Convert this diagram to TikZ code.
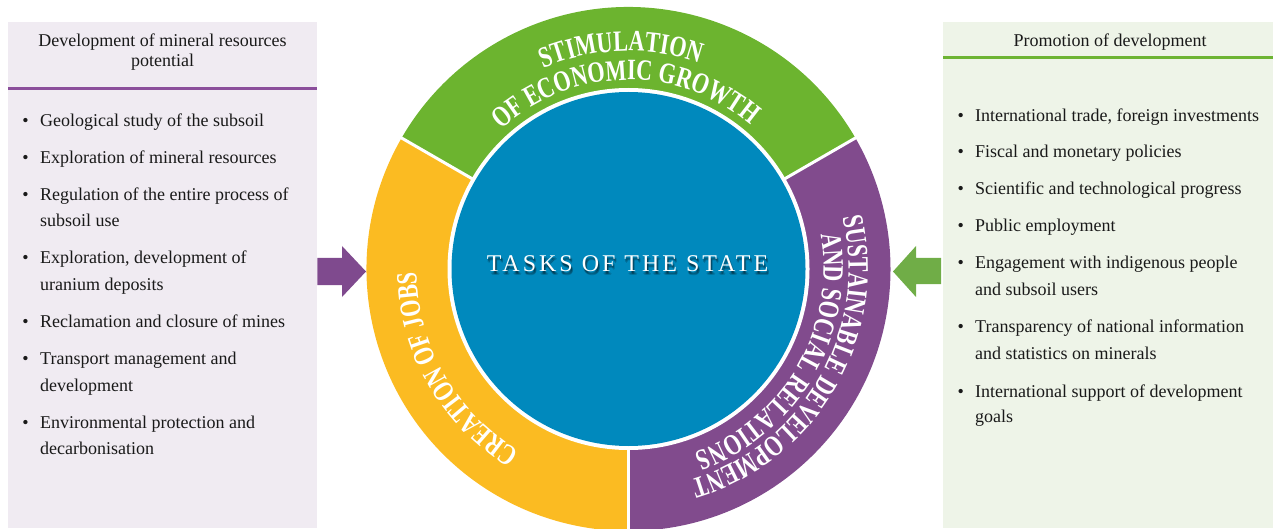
\documentclass[tikz,border=0pt]{standalone}
\usepackage{fontspec}
\setmainfont{Liberation Serif}
\newfontfamily\taskfont[LetterSpace=12.5]{Liberation Serif}
\newfontface\ringface[FakeStretch=0.75]{Liberation Serif Bold}
\usetikzlibrary{decorations.text,calc}
\definecolor{ringgreen}{HTML}{6CB42F}
\definecolor{ringyellow}{HTML}{FBBB22}
\definecolor{ringpurple}{HTML}{814B8D}
\definecolor{taskblue}{HTML}{0089BD}
\definecolor{arrowpurple}{HTML}{7F4A8E}
\definecolor{arrowgreen}{HTML}{70AD47}
\definecolor{lpanel}{HTML}{F0EBF2}
\definecolor{rpanel}{HTML}{EEF4E8}
\definecolor{lline}{HTML}{8B4E9B}
\definecolor{rline}{HTML}{6DB433}
\newcommand\ringfont{\ringface\fontsize{29.5}{31}\selectfont}
\begin{document}
\begin{tikzpicture}[x=1pt,y=1pt,
  item/.style={anchor=base west, inner sep=0pt, font=\fontsize{18}{22}\selectfont, text=black!90},
  bul/.style={anchor=base, inner sep=0pt, font=\fontsize{18}{22}\selectfont, text=black!90},
  hdr/.style={anchor=base, inner sep=0pt, font=\fontsize{18}{22}\selectfont, text=black!90},
  panel/.style={anchor=south west, inner sep=0pt, draw=none},
  arctext/.style={decorate, decoration={text along path, text align=center, text color=white, text={|\ringfont|#1}}}
]
\useasboundingbox (0,0) rectangle (1273,528);
\clip (0,0) rectangle (1273,528);

% panels
\node[panel, fill=lpanel, minimum width=309, minimum height=505.5] (lp) at (8,0) {};
\node[panel, fill=rpanel, minimum width=330, minimum height=506] (rp) at (943,0) {};
\draw[lline, line width=2.5] ($(lp.north west)+(0,-66.5)$) -- ($(lp.north east)+(0,-66.5)$);
\draw[rline, line width=3] ($(rp.north west)+(0,-36.3)$) -- ($(rp.north east)+(0,-36.3)$);

% headers
\node[hdr] (lh1) at (162.5,481.3) {Development of mineral resources};
\node[hdr] (lh2) at (162.5,461.3) {potential};
\node[hdr] (rh1) at (1110,481.3) {Promotion of development};

% left list
\foreach \y [count=\i] in {401.3,364,327,265,201,164,100} {
  \node[bul] (lb\i) at (25.5,\y) {\textbullet};
}
\node[item] (l1) at (40,401.3) {Geological study of the subsoil};
\node[item] (l2) at (40,364) {Exploration of mineral resources};
\node[item] (l3) at (40,327) {Regulation of the entire process of};
\node[item] (l3b) at (40,301.3) {subsoil use};
\node[item] (l4) at (40,265) {Exploration, development of};
\node[item] (l4b) at (40,238) {uranium deposits};
\node[item] (l5) at (40,201) {Reclamation and closure of mines};
\node[item] (l6) at (40,164) {Transport management and};
\node[item] (l6b) at (40,137) {development};
\node[item] (l7) at (40,100) {Environmental protection and};
\node[item] (l7b) at (40,74) {decarbonisation};

% right list
\foreach \y [count=\i] in {406.3,370,333,296.3,259,196,131} {
  \node[bul] (rb\i) at (960.7,\y) {\textbullet};
}
\node[item] (r1) at (975,406.3) {International trade, foreign investments};
\node[item] (r2) at (975,370) {Fiscal and monetary policies};
\node[item] (r3) at (975,333) {Scientific and technological progress};
\node[item] (r4) at (975,296.3) {Public employment};
\node[item] (r5) at (975,259) {Engagement with indigenous people};
\node[item] (r5b) at (975,233) {and subsoil users};
\node[item] (r6) at (975,196) {Transparency of national information};
\node[item] (r6b) at (975,169) {and statistics on minerals};
\node[item] (r7) at (975,131) {International support of development};
\node[item] (r7b) at (975,106) {goals};

% ring
\coordinate (C) at (628.5,259);
\fill[ringgreen] (C) -- ++(30:262) arc[start angle=30,end angle=150,radius=262] -- cycle;
\fill[ringyellow] (C) -- ++(150:262) arc[start angle=150,end angle=270,radius=262] -- cycle;
\fill[ringpurple] (C) -- ++(270:262) arc[start angle=270,end angle=390,radius=262] -- cycle;
\foreach \a in {30,150,270} \draw[white, line width=3] (C) -- ++(\a:266);
\fill[white] (C) circle[radius=181];
\node[circle, fill=taskblue, minimum size=354, inner sep=0pt] (core) at (C) {};

% arc texts
\path[arctext={STIMULATION}] ($(C)+(152:218)$) arc[start angle=152,end angle=32,radius=218];
\path[arctext={OF ECONOMIC GROWTH}] ($(C)+(151:189)$) arc[start angle=151,end angle=31,radius=189];
\path[arctext={SUSTAINABLE DEVELOPMENT}] ($(C)+(30:220)$) arc[start angle=30,end angle=-90,radius=220];
\path[arctext={AND SOCIAL RELATIONS}] ($(C)+(30:195)$) arc[start angle=30,end angle=-90,radius=195];
\path[arctext={CREATION OF JOBS}] ($(C)+(270:212)$) arc[start angle=270,end angle=150,radius=212];

% centre text with soft shadow
\foreach \dx/\dy in {1/-2,2/-3,1.5/-3.5,0.5/-2.5} {
  \node[anchor=base, inner sep=0pt, font=\taskfont\fontsize{24}{28}\selectfont, text=black, opacity=0.18] at (627.5+\dx,256.3+\dy) {TASKS OF THE STATE};
}
\node[anchor=base, inner sep=0pt, font=\taskfont\fontsize{24}{28}\selectfont, text=white] (tasks) at (627.5,256.3) {TASKS OF THE STATE};

% block arrows
\coordinate (lt) at (366,256.5);
\coordinate (rt) at (893,256.5);
\fill[arrowpurple] (lp.east |- 0,270) -- (342,270) -- (342,282) -- (lt) -- (342,231) -- (342,243) -- (lp.east |- 0,243) -- cycle;
\fill[arrowgreen] (941,270) -- (916,270) -- (916,282) -- (rt) -- (916,231) -- (916,244) -- (941,244) -- cycle;
\end{tikzpicture}
\end{document}
